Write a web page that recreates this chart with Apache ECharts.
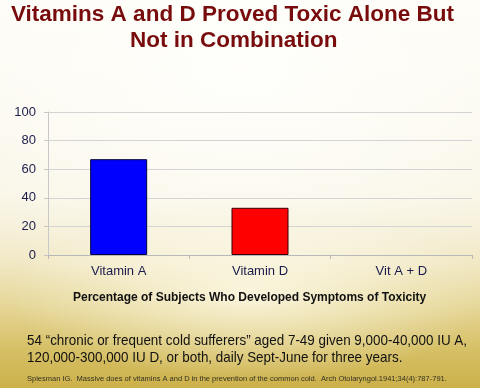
<!DOCTYPE html>
<html>
<head>
<meta charset="utf-8">
<script src="https://cdn.jsdelivr.net/npm/echarts@6/dist/echarts.min.js"></script>
<style>
html,body{margin:0;padding:0;width:480px;height:388px;overflow:hidden;}
body{background:
  radial-gradient(ellipse 50% 22% at 52% 76%, rgba(255,252,236,0.75) 0%, rgba(255,252,236,0) 100%),
  radial-gradient(ellipse 80% 60% at 50% 20%, rgba(255,255,252,0.9) 0%, rgba(255,255,252,0) 100%),
  linear-gradient(to bottom, #fdfcf6 0%, #f9f5e6 50%, #f1e8c4 68%, #e4d492 80%, #d6c066 90%, #ccb04a 100%);}
#chart{width:480px;height:388px;}
</style>
</head>
<body>
<div id="chart"></div>
<script>
const categories = ['Vitamin A', 'Vitamin D', 'Vit A + D'];
const values = [67, 33, 0];
const barColors = ['#0000ff', '#ff0000', '#ff0000'];
const borderColors = ['#00003a', '#3a0000', 'transparent'];
const yTicks = [0, 20, 40, 60, 80, 100];
const titleLines = ['Vitamins A and D Proved Toxic Alone But', 'Not in Combination'];
const xAxisTitle = 'Percentage of Subjects Who Developed Symptoms of Toxicity';
const noteLines = ['54 \u201cchronic or frequent cold sufferers\u201d aged 7-49 given 9,000-40,000 IU A,', '120,000-300,000 IU D, or both, daily Sept-June for three years.'];
const citation = 'Spiesman IG.  Massive does of vitamins A and D in the prevention of the common cold.  Arch Otolaryngol.1941;34(4):787-791.';

const chart = echarts.init(document.getElementById('chart'), null, {renderer: 'canvas'});
const font = '"Liberation Sans", Arial, sans-serif';
chart.setOption({
  backgroundColor: 'transparent',
  animation: false,
  grid: {left: 48, right: 8, top: 112, bottom: 133, containLabel: false},
  xAxis: {
    type: 'category',
    data: categories,
    axisLine: {show: true, lineStyle: {color: '#b8b8b8', width: 1}},
    axisTick: {show: true, alignWithLabel: false, length: 4, lineStyle: {color: '#b8b8b8'}},
    axisLabel: {color: '#1c1c4c', fontSize: 13, fontFamily: font, margin: 10}
  },
  yAxis: {
    type: 'value',
    min: yTicks[0], max: yTicks[yTicks.length - 1], interval: yTicks[1] - yTicks[0],
    axisLine: {show: true, lineStyle: {color: '#c8c8c8'}},
    axisTick: {show: true, length: 4, lineStyle: {color: '#c8c8c8'}},
    axisLabel: {color: '#1c1c4c', fontSize: 13, fontFamily: font, margin: 12},
    splitLine: {show: true, lineStyle: {color: '#d4d4d4', width: 1}}
  },
  series: [{
    type: 'bar',
    barWidth: 57,
    data: values.map((v, i) => ({value: v, itemStyle: {color: v > 0 ? barColors[i] : 'transparent', borderColor: borderColors[i], borderWidth: v > 0 ? 1 : 0}})),
    label: {show: false}
  }],
  graphic: [
    {type: 'text', left: 11, top: 3, style: {text: titleLines[0], font: 'bold 22.5px ' + font, fill: '#780c0c'}},
    {type: 'text', left: 130, top: 29, style: {text: titleLines[1], font: 'bold 22.5px ' + font, fill: '#780c0c'}},
    {type: 'text', left: 73, top: 292, style: {text: xAxisTitle, font: 'bold 12px ' + font, fill: '#111111'}},
    {type: 'text', x: 27, y: 333, scaleX: 0.895, style: {text: noteLines[0], font: '15px ' + font, fill: '#111111'}},
    {type: 'text', x: 27, y: 350, scaleX: 0.895, style: {text: noteLines[1], font: '15px ' + font, fill: '#111111'}},
    {type: 'text', left: 27, top: 375, style: {text: citation, font: '7.5px ' + font, fill: '#333322'}}
  ]
});
</script>
</body>
</html>
